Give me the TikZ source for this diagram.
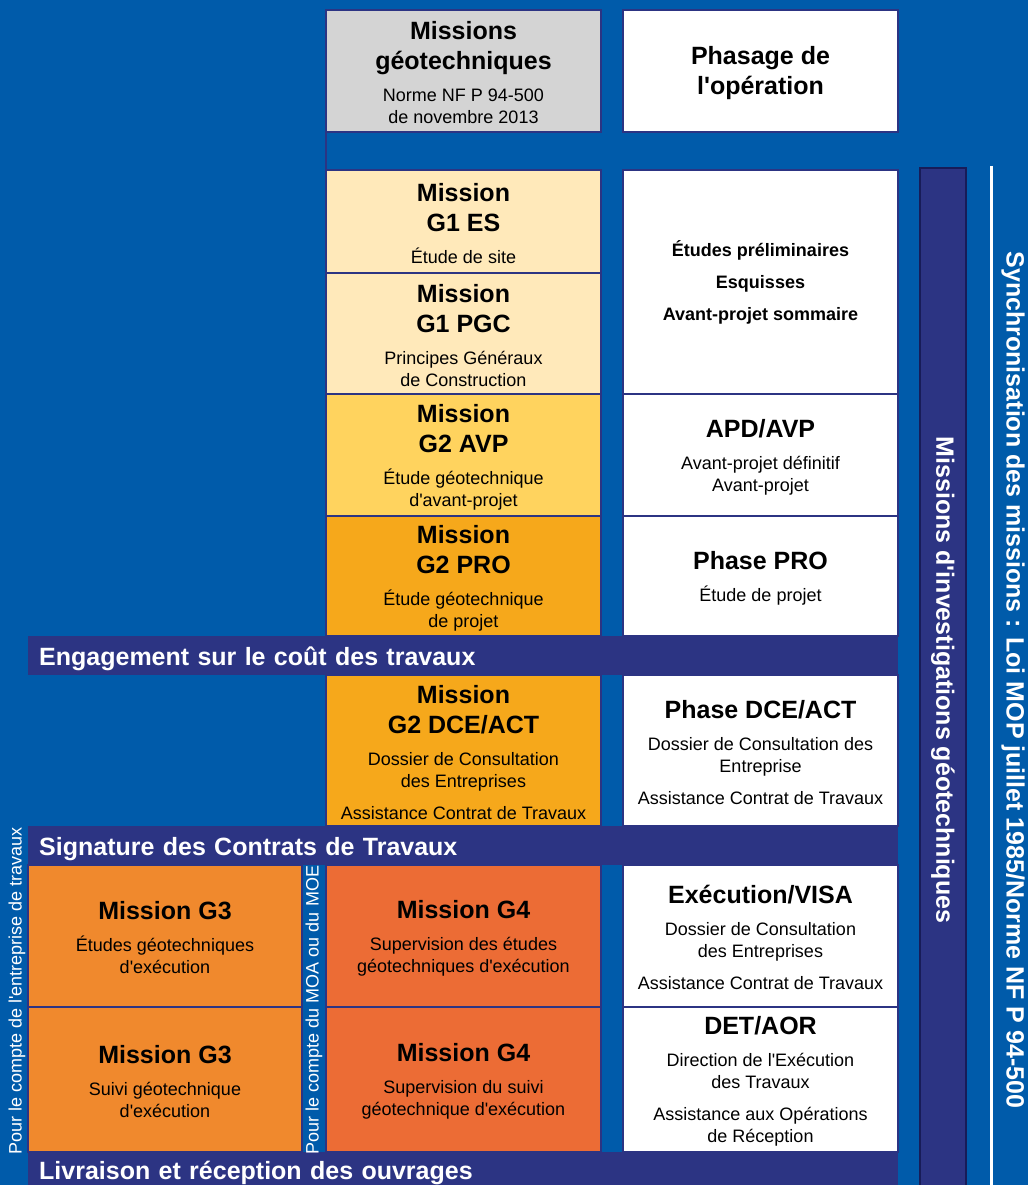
\documentclass[tikz,border=0pt]{standalone}
\usepackage{fontspec}
\setmainfont{Liberation Sans}[Ligatures=TeXOff]

\definecolor{fond}{RGB}{0,91,170}
\definecolor{marine}{RGB}{44,52,131}
\definecolor{marinefonce}{RGB}{24,28,88}
\definecolor{gris}{RGB}{212,212,212}
\definecolor{creme}{RGB}{255,233,186}
\definecolor{jaune}{RGB}{255,211,94}
\definecolor{orangeclair}{RGB}{246,168,27}
\definecolor{orangeGiii}{RGB}{240,137,45}
\definecolor{orangeGiv}{RGB}{236,108,53}

% titre gras + texte de detail (espaces fixes de la fonte courante)
\newcommand{\espaces}{\spaceskip=\fontdimen2\font\relax\xspaceskip=\spaceskip}
\newcommand{\titre}[1]{{\fontsize{25}{30}\selectfont\bfseries\espaces\rule{0pt}{22pt}#1\par}}
\newcommand{\detail}[1]{\vspace{10pt}{\fontsize{18}{22}\selectfont\espaces #1\par}}

\tikzset{
  mission/.style={draw=marine, line width=1.5pt, anchor=north west, inner sep=0pt,
    outer sep=0pt, minimum width=275pt, text width=270pt, align=center},
  phase/.style={mission, fill=white},
  bandeau/.style={fill=marine, text=white, anchor=north west, inner xsep=11pt,
    inner ysep=0pt, minimum width=870pt, minimum height=39pt, text width=848pt,
    text height=19pt, text depth=0pt, align=left,
    font=\fontsize{25}{30}\selectfont\bfseries},
  compte/.style={text=white, rotate=90, inner sep=0pt, font=\fontsize{18}{22}\selectfont},
  vertgras/.style={text=white, rotate=-90, inner sep=0pt, font=\fontsize{25}{30}\selectfont\bfseries},
}

\begin{document}
\begin{tikzpicture}[x=1pt, y=-1pt]
	\useasboundingbox (0,0) rectangle (1028,1185);
	\fill[fond] (0,0) rectangle (1028,1185);

	% en-tetes
	\node[mission, fill=gris, minimum height=122pt] (hdrL) at (326,10)
		{\titre{Missions\\géotechniques}\detail{Norme NF P 94-500\\de novembre 2013}};
	\node[phase, minimum height=122pt] (hdrR) at (623,10)
		{\titre{Phasage de\\l'opération}};

	% missions geotechniques
	\node[mission, fill=creme, minimum height=103pt] (gIes) at (326,170)
		{\titre{Mission\\G1 ES}\detail{Étude de site}};
	\node[mission, fill=creme, minimum height=121pt] (gIpgc) at (326,273)
		{\titre{Mission\\G1 PGC}\detail{Principes Généraux\\de Construction}};
	\node[mission, fill=jaune, minimum height=122pt] (gIIavp) at (326,394)
		{\titre{Mission\\G2 AVP}\detail{Étude géotechnique\\d'avant-projet}};
	\node[mission, fill=orangeclair, minimum height=120pt] (gIIpro) at (326,516)
		{\titre{Mission\\G2 PRO}\detail{Étude géotechnique\\de projet}};
	\node[mission, fill=orangeclair, minimum height=151pt] (gIIdce) at (326,675)
		{\titre{Mission\\G2 DCE/ACT}\detail{Dossier de Consultation\\des Entreprises}\detail{Assistance Contrat de Travaux}};
	\node[mission, fill=orangeGiii, minimum width=274pt, minimum height=142pt] (gIIIa) at (28,865)
		{\titre{Mission G3}\detail{Études géotechniques\\d'exécution}};
	\node[mission, fill=orangeGiii, minimum width=274pt, minimum height=145pt] (gIIIb) at (28,1007)
		{\titre{Mission G3}\detail{Suivi géotechnique\\d'exécution}};
	\node[mission, fill=orangeGiv, minimum height=142pt] (gIVa) at (326,865)
		{\titre{Mission G4}\detail{Supervision des études\\géotechniques d'exécution}};
	\node[mission, fill=orangeGiv, minimum height=145pt] (gIVb) at (326,1007)
		{\titre{Mission G4}\detail{Supervision du suivi\\géotechnique d'exécution}};
	\draw[marine, line width=1.5pt] (hdrL.south west) -- (gIes.north west);

	% phases de l'operation
	\node[phase, minimum height=224pt] (phEsq) at (623,170)
		{{\fontsize{18}{32}\selectfont\bfseries\espaces Études préliminaires\\Esquisses\\Avant-projet sommaire\par}};
	\node[phase, minimum height=122pt] (phApd) at (623,394)
		{\titre{APD/AVP}\detail{Avant-projet définitif\\Avant-projet}};
	\node[phase, minimum height=120pt] (phPro) at (623,516)
		{\titre{Phase PRO}\detail{Étude de projet}};
	\node[phase, minimum height=151pt] (phDce) at (623,675)
		{\titre{Phase DCE/ACT}\detail{Dossier de Consultation des\\Entreprise}\detail{Assistance Contrat de Travaux}};
	\node[phase, minimum height=142pt] (phExe) at (623,865)
		{\titre{Exécution/VISA}\detail{Dossier de Consultation\\des Entreprises}\detail{Assistance Contrat de Travaux}};
	\node[phase, minimum height=145pt] (phDet) at (623,1007)
		{\titre{DET/AOR}\detail{Direction de l'Exécution\\des Travaux}\detail{Assistance aux Opérations\\de Réception}};

	% jalons
	\node[bandeau] (engag) at (28,636) {Engagement sur le coût des travaux};
	\node[bandeau] (signat) at (28,826) {Signature des Contrats de Travaux};
	\node[bandeau, minimum height=36pt] (livr) at (28,1152) {Livraison et réception des ouvrages};

	\node[compte] (cptEnt) at (17,991) {Pour le compte de l'entreprise de travaux};
	\node[compte] (cptMoa) at (314,1010) {Pour le compte du MOA ou du MOE};

	% colonnes de droite
	\draw[fill=marine, draw=marinefonce, line width=1.5pt] (920,168) rectangle (966,1192);
	\node[vertgras] (investig) at (943,680) {Missions d'investigations géotechniques};
	\draw[white, line width=3pt] (991.5,166) -- (991.5,1192);
	\node[vertgras] (synchro) at (1013,680) {Synchronisation des missions : Loi MOP juillet 1985/Norme NF P 94-500};
\end{tikzpicture}
\end{document}
